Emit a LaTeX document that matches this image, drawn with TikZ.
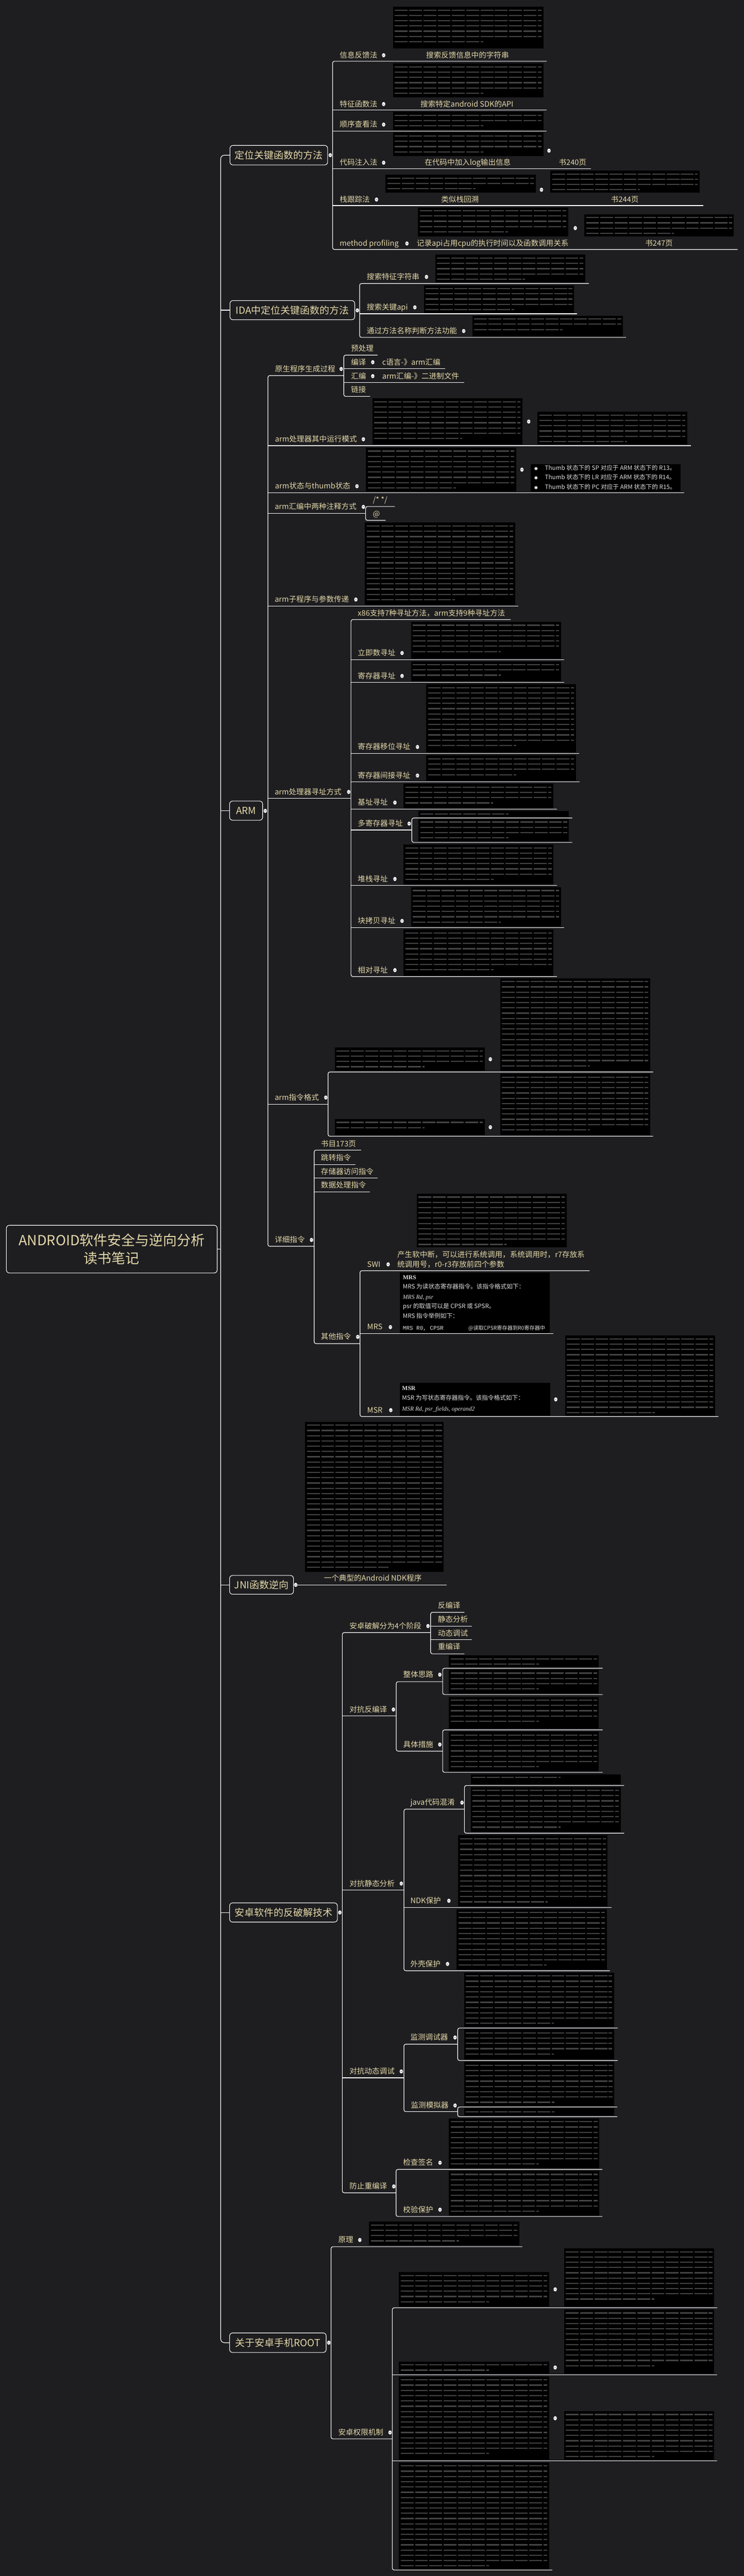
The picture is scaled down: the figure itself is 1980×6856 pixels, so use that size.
\documentclass[tikz,border=0pt]{standalone}
\usepackage{fontspec}
\setmainfont{Noto Sans CJK SC}
\newfontfamily\bookserif{Liberation Serif}
\newfontfamily\bookmono{Liberation Mono}
\definecolor{bgc}{RGB}{30,30,33}
\definecolor{labc}{RGB}{228,216,168}
\definecolor{barc}{RGB}{68,68,68}
\definecolor{shotc}{RGB}{222,222,222}
\definecolor{foldc}{RGB}{120,120,130}
\tikzset{
  branch/.style={draw=white, line width=1.6pt, rounded corners=5pt},
  topic/.style={draw=white, line width=1.5pt, rounded corners=8pt, fill=bgc, text=labc, inner sep=0pt, font=\fontsize{26}{30}\selectfont},
  lab/.style={anchor=west, inner sep=0pt, text=labc, font=\fontsize{20}{24}\selectfont, text height=17pt, text depth=3pt},
  shottext/.style={anchor=west, inner sep=0pt, text=shotc, font=\fontsize{16}{20}\selectfont, text height=14pt, text depth=3pt},
  txtline/.style={draw=barc, line width=3pt, dash pattern=on 34pt off 4pt},
}
\newcommand{\lab}[4]{\node[lab] (#1) at (#2,#3) {#4};}
\newcommand{\fold}[2]{\fill[white] (#1,#2) ellipse (4.5pt and 5.5pt); \draw[foldc, line width=1.2pt] (#1-2.5,#2) -- (#1+2.5,#2);}
\newcommand{\shot}[4]{%
  \fill[black] (#1,#2) rectangle (#3,#4);
  \pgfmathtruncatemacro{\shotrows}{max(1,floor((#4-#2-3)/14))}%
  \foreach \shotrow in {1,...,\shotrows}{%
    \pgfmathsetmacro{\shoty}{#2+\shotrow*14-5}%
    \ifnum\shotrow=\shotrows\relax
      \pgfmathsetmacro{\shotend}{#1+0.6*(#3-#1)}%
    \else
      \pgfmathsetmacro{\shotend}{#3-5}%
    \fi
    \draw[txtline] (#1+5,\shoty) -- (\shotend,\shoty);
  }%
}

\begin{document}
\begin{tikzpicture}[x=1pt, y=-1pt]
    \fill[bgc] (0,0) rectangle (1980,6856);
    \useasboundingbox (0,0) rectangle (1980,6856);

    \node[topic, font=\fontsize{37}{48}\selectfont, align=center, minimum width=561pt, minimum height=127pt] (root) at (297.5,3324.5) {ANDROID软件安全与逆向分析\\读书笔记};
    \node[topic, minimum width=260pt, minimum height=52pt] (loc) at (742,413) {定位关键函数的方法};
    \node[topic, minimum width=332pt, minimum height=51pt] (ida) at (778,825.5) {IDA中定位关键函数的方法};
    \node[topic, minimum width=88pt, minimum height=51pt] (arm) at (655,2157.5) {ARM};
    \node[topic, minimum width=170pt, minimum height=50pt] (jni) at (696,4218) {JNI函数逆向};
    \node[topic, minimum width=287pt, minimum height=51pt] (crack) at (754.5,5090) {安卓软件的反破解技术};
    \node[topic, minimum width=257pt, minimum height=52pt] (rootsec) at (739.5,6235) {关于安卓手机ROOT};

    \draw[branch, rounded corners=10pt] (loc.west) -- ++(-24,0) |- (rootsec.west);
    \draw[branch] (ida.west) -- ++(-24,0);
    \draw[branch] (arm.west) -- ++(-23,0);
    \draw[branch] (jni.west) -- ++(-23,0);
    \draw[branch] (crack.west) -- ++(-23,0);
    \draw[branch] (root.east) -- ++(10,0);

    % 定位关键函数的方法
    \draw[branch] (1455,163) -- (885,163) -- (885,664) -- (1963,664);
    \draw[branch] (885,293) -- (1455,293);
    \draw[branch] (885,349) -- (1455,349);
    \draw[branch] (885,449) -- (1573,449);
    \draw[branch] (885,547) -- (1872,547);
    \shot{1046}{18}{1446}{129}
    \shot{1046}{169}{1446}{259}
    \shot{1046}{298}{1446}{346}
    \shot{1046}{353}{1446}{415}
    \shot{1026}{465}{1426}{513}
    \shot{1465}{454}{1862}{513}
    \shot{1112}{552}{1512}{630}
    \shot{1555}{570}{1953}{630}
    \lab{locA}{904}{147}{信息反馈法}
    \lab{locAa}{1134}{147}{搜索反馈信息中的字符串}
    \lab{locB}{904}{277}{特征函数法}
    \lab{locBa}{1119}{277}{搜索特定android SDK的API}
    \lab{locC}{904}{331.5}{顺序查看法}
    \lab{locD}{904}{433}{代码注入法}
    \lab{locDa}{1130}{433}{在代码中加入log输出信息}
    \lab{locDb}{1487}{433}{书240页}
    \lab{locE}{904}{531}{栈跟踪法}
    \lab{locEa}{1174}{531}{类似栈回溯}
    \lab{locEb}{1626}{531}{书244页}
    \lab{locF}{904}{648}{method profiling}
    \lab{locFa}{1109}{648}{记录api占用cpu的执行时间以及函数调用关系}
    \lab{locFb}{1717}{648}{书247页}
    \fold{1021}{147} \fold{1021}{277} \fold{1021}{331.5} \fold{1021}{433} \fold{1461}{401}
    \fold{1002}{531} \fold{1441}{505} \fold{1083}{648} \fold{1531}{607}

    % IDA
    \draw[branch] (1567,754.5) -- (957,754.5) -- (957,898) -- (1666,898);
    \draw[branch] (957,835) -- (1536,835);
    \shot{1158}{678}{1557}{752}
    \shot{1128}{759}{1528}{833}
    \shot{1257}{840}{1658}{896}
    \lab{idaA}{976}{737}{搜索特征字符串}
    \lab{idaB}{976}{818}{搜索关键api}
    \lab{idaC}{976}{881}{通过方法名称判断方法功能}
    \fold{1135}{737} \fold{1104}{818} \fold{1234}{881}

    % ARM
    \draw[branch] (915,999.5) -- (713,999.5) -- (713,3317) -- (836,3317);
    \draw[branch] (713,1186) -- (1839,1186);
    \draw[branch] (713,1311.6) -- (1821,1311.6);
    \draw[branch] (713,1366.6) -- (973,1366.6);
    \draw[branch] (713,1613) -- (1379,1613);
    \draw[branch] (713,2125) -- (934,2125);
    \draw[branch] (713,2939) -- (873,2939);
    \draw[branch] (1005,945) -- (915,945) -- (915,1055) -- (985,1055);
    \draw[branch] (915,981) -- (1185,981);
    \draw[branch] (915,1018) -- (1235,1018);
    \draw[branch] (1051,1348) -- (973,1348) -- (973,1385) -- (1026,1385);
    \draw[branch] (1359,1649) -- (934,1649) -- (934,2599) -- (1482,2599);
    \draw[branch] (934,1756) -- (1502,1756);
    \draw[branch] (934,1816.6) -- (1502,1816.6);
    \draw[branch] (934,2005.5) -- (1541,2005.5);
    \draw[branch] (934,2081) -- (1543,2081);
    \draw[branch] (934,2153.6) -- (1482,2153.6);
    \draw[branch] (934,2209) -- (1096,2209);
    \draw[branch] (934,2356) -- (1482,2356);
    \draw[branch] (934,2469) -- (1502,2469);
    \draw[branch] (1523,2177) -- (1096,2177) -- (1096,2242) -- (1523,2242);
    \draw[branch] (1738,2853) -- (873,2853) -- (873,3024) -- (1738,3024);
    \draw[branch] (961,3061) -- (836,3061) -- (836,3576) -- (958,3576);
    \draw[branch] (836,3099) -- (946,3099);
    \draw[branch] (836,3135.5) -- (1005,3135.5);
    \draw[branch] (836,3172) -- (985,3172);
    \draw[branch] (1569,3382) -- (958,3382) -- (958,3770) -- (1912,3770);
    \draw[branch] (958,3549) -- (1472,3549);

    \lab{armA}{732}{982}{原生程序生成过程}
    \lab{armAa}{934}{928}{预处理}
    \lab{armAb}{934}{964}{编译}
    \lab{armAbc}{1017}{964}{c语言-》arm汇编}
    \lab{armAc}{934}{1001}{汇编}
    \lab{armAcc}{1017}{1001}{arm汇编-》二进制文件}
    \lab{armAd}{934}{1037.5}{链接}
    \fold{908}{982} \fold{992}{964} \fold{992}{1001}

    \shot{991}{1060}{1390}{1183.5}
    \shot{1430}{1096}{1829}{1183.5}
    \lab{armB}{732}{1169}{arm处理器其中运行模式}
    \fold{967}{1169} \fold{1407}{1122}

    \shot{974}{1191.5}{1374}{1308.5}
    \fill[black] (1413,1235) rectangle (1812,1308.5);
    \foreach \ty/\tr [count=\ti] in {1245.5/R13, 1271/R14, 1296/R15}{
        \node[shottext, font=\fontsize{9}{10}\selectfont] (thumbdot\ti) at (1422,\ty) {●};
        \node[shottext] (thumb\ti) at (1450,\ty) {Thumb 状态下的 \ifnum\ti=1 SP\else\ifnum\ti=2 LR\else PC\fi\fi{} 对应于 ARM 状态下的 \tr。};
    }
    \lab{armC}{732}{1294}{arm状态与thumb状态}
    \fold{950}{1294} \fold{1389}{1250}

    \lab{armD}{731}{1349}{arm汇编中两种注释方式}
    \lab{armDa}{992}{1330}{/* */}
    \lab{armDb}{992}{1368}{@}
    \fold{967}{1349}

    \shot{971}{1391}{1371}{1610}
    \lab{armE}{731}{1595.6}{arm子程序与参数传递}
    \fold{947}{1595.6}

    \lab{armF}{731}{2107.7}{arm处理器寻址方式}
    \lab{armFa}{952}{1632}{x86支持7种寻址方法，arm支持9种寻址方法}
    \shot{1094}{1655}{1493}{1752}
    \lab{armFb}{952}{1738}{立即数寻址}
    \shot{1094}{1760}{1493}{1814}
    \lab{armFc}{952}{1799}{寄存器寻址}
    \shot{1134}{1821}{1533}{2003}
    \lab{armFd}{952}{1988}{寄存器移位寻址}
    \shot{1134}{2010.7}{1533}{2078.4}
    \lab{armFe}{952}{2064}{寄存器间接寻址}
    \shot{1074}{2086}{1472}{2152}
    \lab{armFf}{952}{2136}{基址寻址}
    \shot{1114}{2158}{1514}{2175}
    \shot{1114}{2178.7}{1514}{2239.5}
    \lab{armFg}{952}{2192}{多寄存器寻址}
    \shot{1074}{2247.6}{1473}{2355.5}
    \lab{armFh}{952}{2339.4}{堆栈寻址}
    \shot{1094}{2361}{1493}{2466}
    \lab{armFi}{952}{2451}{块拷贝寻址}
    \shot{1074}{2474}{1473}{2596.6}
    \lab{armFj}{952}{2582}{相对寻址}
    \fold{928}{2107.7} \fold{1070}{1738} \fold{1070}{1799} \fold{1111}{1988} \fold{1111}{2064}
    \fold{1051}{2136} \fold{1089}{2192} \fold{1051}{2339.4} \fold{1070}{2451} \fold{1051}{2582}

    \shot{891}{2788}{1290}{2850}
    \shot{1331}{2603.5}{1730}{2850}
    \shot{891}{2978}{1290}{3021}
    \shot{1331}{2858}{1730}{3021}
    \lab{armG}{731}{2921}{arm指令格式}
    \fold{867}{2921} \fold{1305}{2819} \fold{1305}{3000}

    \lab{armH}{731}{3300}{详细指令}
    \lab{armHa}{854}{3044}{书目173页}
    \lab{armHb}{854}{3081}{跳转指令}
    \lab{armHc}{854}{3118}{存储器访问指令}
    \lab{armHd}{854}{3154}{数据处理指令}
    \lab{armHe}{854}{3558}{其他指令}
    \fold{829}{3300} \fold{952}{3558}

    \shot{1109}{3177}{1508}{3320}
    \lab{swi}{977}{3365}{SWI}
    \lab{swiA}{1057}{3339}{产生软中断，可以进行系统调用，系统调用时，r7存放系}
    \lab{swiB}{1057}{3365}{统调用号，r0-r3存放前四个参数}
    \fold{1033}{3365}

    \fill[black] (1064,3387) rectangle (1463,3547);
    \node[shottext] (mrsA) at (1072,3400) {\bookserif\bfseries MRS};
    \node[shottext] (mrsB) at (1072,3425) {MRS 为读状态寄存器指令。该指令格式如下：};
    \node[shottext] (mrsC) at (1072,3452) {\bookserif\itshape MRS Rd, psr};
    \node[shottext] (mrsD) at (1072,3476.5) {psr 的取值可以是 CPSR 或 SPSR。};
    \node[shottext] (mrsE) at (1072,3503) {MRS 指令举例如下：};
    \node[shottext, font=\fontsize{15}{18}\selectfont] (mrsF) at (1072,3534) {\bookmono MRS R0, CPSR};
    \node[shottext, font=\fontsize{14}{18}\selectfont] (mrsG) at (1246,3534) {@读取CPSR寄存器到R0寄存器中};
    \lab{mrs}{977}{3532}{MRS}
    \fold{1039}{3532}

    \fill[black] (1064,3680) rectangle (1464,3767.5);
    \node[shottext] (msrA) at (1070,3694.6) {\bookserif\bfseries MSR};
    \node[shottext] (msrB) at (1070,3721) {MSR 为写状态寄存器指令。该指令格式如下：};
    \node[shottext] (msrC) at (1070,3750) {\bookserif\itshape MSR Rd, psr\_fields, operand2};
    \shot{1503.6}{3554.5}{1903}{3767.5}
    \lab{msr}{977}{3753}{MSR}
    \fold{1040}{3753} \fold{1479}{3724.5}

    % JNI
    \draw[branch] (787,4218) -- (1189,4218);
    \shot{812}{3784}{1181}{4183}
    \lab{jniA}{862}{4200.7}{一个典型的Android NDK程序}

    % 反破解
    \draw[branch] (1146,4345) -- (911,4345) -- (911,5836) -- (1054,5836);
    \draw[branch] (911,4567) -- (1054.5,4567);
    \draw[branch] (911,5030.7) -- (1075,5030.7);
    \draw[branch] (911,5530) -- (1075,5530);
    \draw[branch] (1236,4291) -- (1146,4291) -- (1146,4401.7) -- (1236,4401.7);
    \draw[branch] (1146,4327.6) -- (1256,4327.6);
    \draw[branch] (1146,4364) -- (1256,4364);
    \draw[branch] (1178,4475.7) -- (1054.5,4475.7) -- (1054.5,4660.6) -- (1178,4660.6);
    \draw[branch] (1603.6,4440) -- (1178,4440) -- (1178,4510) -- (1603.6,4510);
    \draw[branch] (1603.6,4604) -- (1178,4604) -- (1178,4717) -- (1603.6,4717);
    \draw[branch] (1236,4815) -- (1075,4815) -- (1075,5245) -- (1623,5245);
    \draw[branch] (1075,5076.6) -- (1627,5076.6);
    \draw[branch] (1661,4752) -- (1236,4752) -- (1236,4879) -- (1661,4879);
    \draw[branch] (1218,5440.5) -- (1075,5440.5) -- (1075,5620) -- (1218,5620);
    \draw[branch] (1644,5397.5) -- (1218,5397.5) -- (1218,5484) -- (1644,5484);
    \draw[branch] (1643,5607.6) -- (1218,5607.6) -- (1218,5633.5) -- (1643,5633.5);
    \draw[branch] (1603,5773.7) -- (1054,5773.7) -- (1054,5899) -- (1603,5899);

    \lab{crA}{930}{4327.6}{安卓破解分为4个阶段}
    \lab{crAa}{1165}{4273}{反编译}
    \lab{crAb}{1165}{4310}{静态分析}
    \lab{crAc}{1165}{4346.6}{动态调试}
    \lab{crAd}{1165}{4383}{重编译}
    \fold{1139}{4327.6}

    \shot{1194.6}{4406}{1594}{4438}
    \shot{1194.6}{4444}{1594}{4507}
    \shot{1194.6}{4516}{1594}{4601}
    \shot{1194.6}{4609}{1594}{4714.5}
    \lab{crB}{930}{4549.8}{对抗反编译}
    \lab{crBa}{1073}{4457}{整体思路}
    \lab{crBb}{1073}{4643}{具体措施}
    \fold{1047}{4549.8} \fold{1170.5}{4457} \fold{1170.5}{4643}

    \shot{1252.7}{4721.8}{1652}{4749}
    \shot{1252.7}{4756}{1652}{4876}
    \shot{1218.8}{4884.8}{1617}{5074}
    \shot{1215}{5081}{1615}{5242.5}
    \lab{crC}{930}{5013}{对抗静态分析}
    \lab{crCa}{1092}{4797.6}{java代码混淆}
    \lab{crCb}{1092}{5058.8}{NDK保护}
    \lab{crCc}{1092}{5227}{外壳保护}
    \fold{1068}{5013} \fold{1229.5}{4797.6} \fold{1194.6}{5058.8} \fold{1191}{5227}

    \shot{1235}{5250}{1634}{5394.6}
    \shot{1235}{5401.5}{1634}{5480.7}
    \shot{1235}{5488}{1635}{5606}
    \shot{1235}{5611}{1635}{5630}
    \lab{crD}{930}{5513}{对抗动态调试}
    \lab{crDa}{1092}{5422.7}{监测调试器}
    \lab{crDb}{1093.5}{5603.6}{监测模拟器}
    \fold{1068}{5513} \fold{1211}{5422.7} \fold{1211}{5603.6}

    \shot{1194.8}{5638}{1595}{5771}
    \shot{1194.8}{5778}{1595}{5897}
    \lab{crE}{930}{5819}{防止重编译}
    \lab{crEa}{1072.6}{5756}{检查签名}
    \lab{crEb}{1072.6}{5881}{校验保护}
    \fold{1048}{5819} \fold{1171}{5756} \fold{1171}{5881}

    % ROOT
    \draw[branch] (1390,5979.5) -- (881,5979.5) -- (881,6491) -- (1044,6491);
    \draw[branch] (1909,6142) -- (1044,6142) -- (1044,6840) -- (1470,6840);
    \draw[branch] (1044,6320.5) -- (1909,6320.5);
    \draw[branch] (1044,6549) -- (1909,6549);
    \shot{982}{5913}{1382}{5976}
    \shot{1061.6}{6047}{1461}{6139}
    \shot{1501}{5984}{1901}{6139}
    \shot{1061.6}{6285}{1461}{6317.6}
    \shot{1501}{6147}{1901}{6317.6}
    \shot{1061.6}{6325}{1461}{6546}
    \shot{1501}{6417}{1901}{6546}
    \shot{1061.6}{6554}{1461}{6838}
    \lab{rtA}{900}{5961.6}{原理}
    \lab{rtB}{900}{6474}{安卓权限机制}
    \fold{957.6}{5961.6} \fold{1038}{6474} \fold{1477.5}{6093} \fold{1477.5}{6301} \fold{1477.5}{6436}

    \fold{879}{413} \fold{951}{826} \fold{706}{2158} \fold{787}{4218} \fold{904.5}{5090} \fold{875}{6235}
\end{tikzpicture}
\end{document}
